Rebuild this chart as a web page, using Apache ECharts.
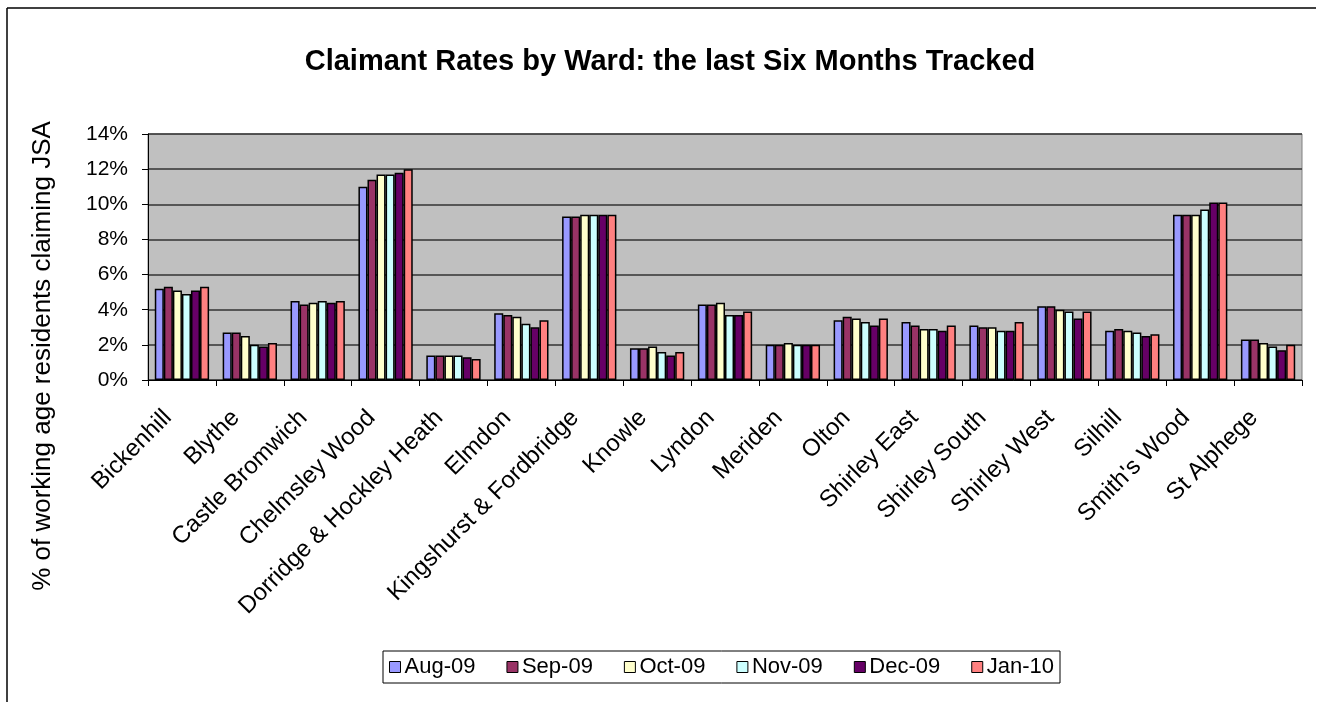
<!DOCTYPE html>
<html>
<head>
<meta charset="utf-8">
<title>Claimant Rates by Ward</title>
<script src="https://cdn.jsdelivr.net/npm/echarts@6/dist/echarts.min.js"></script>
<style>
    html, body { margin: 0; padding: 0; background: #fff; }
    #chart { width: 1320px; height: 702px; }
</style>
</head>
<body>
<div id="chart"></div>
<script>
// wards along the x axis
var wards = ['Bickenhill', 'Blythe', 'Castle Bromwich', 'Chelmsley Wood', 'Dorridge & Hockley Heath',
    'Elmdon', 'Kingshurst & Fordbridge', 'Knowle', 'Lyndon', 'Meriden', 'Olton', 'Shirley East',
    'Shirley South', 'Shirley West', 'Silhill', "Smith's Wood", 'St Alphege'];

// % of working age residents claiming JSA, one array per month
var aug09 = [5.2, 2.7, 4.5, 11.0, 1.4, 3.8, 9.3, 1.8, 4.3, 2.0, 3.4, 3.3, 3.1, 4.2, 2.8, 9.4, 2.3];
var sep09 = [5.3, 2.7, 4.3, 11.4, 1.4, 3.7, 9.3, 1.8, 4.3, 2.0, 3.6, 3.1, 3.0, 4.2, 2.9, 9.4, 2.3];
var oct09 = [5.1, 2.5, 4.4, 11.7, 1.4, 3.6, 9.4, 1.9, 4.4, 2.1, 3.5, 2.9, 3.0, 4.0, 2.8, 9.4, 2.1];
var nov09 = [4.9, 2.0, 4.5, 11.7, 1.4, 3.2, 9.4, 1.6, 3.7, 2.0, 3.3, 2.9, 2.8, 3.9, 2.7, 9.7, 1.9];
var dec09 = [5.1, 1.9, 4.4, 11.8, 1.3, 3.0, 9.4, 1.4, 3.7, 2.0, 3.1, 2.8, 2.8, 3.5, 2.5, 10.1, 1.7];
var jan10 = [5.3, 2.1, 4.5, 12.0, 1.2, 3.4, 9.4, 1.6, 3.9, 2.0, 3.5, 3.1, 3.3, 3.9, 2.6, 10.1, 2.0];

var months = ['Aug-09', 'Sep-09', 'Oct-09', 'Nov-09', 'Dec-09', 'Jan-10'];
var monthData = [aug09, sep09, oct09, nov09, dec09, jan10];
var colors = ['#9999FF', '#993366', '#FFFFCC', '#CCFFFF', '#660066', '#FF8080'];

// y axis ticks
var yMin = 0, yMax = 14, yStep = 2;

var chart = echarts.init(document.getElementById('chart'));
var font = 'Arial, "Liberation Sans", sans-serif';

var series = [];
for (var i = 0; i < months.length; i++) {
    series.push({
        name: months[i],
        type: 'bar',
        data: monthData[i],
        barGap: '0%',
        barCategoryGap: '20%',
        itemStyle: {
            color: colors[i],
            borderColor: '#000',
            borderWidth: 1.5
        }
    });
}

var option = {
    backgroundColor: '#fff',
    animation: false,
    title: {
        text: 'Claimant Rates by Ward: the last Six Months Tracked',
        left: 665,
        top: 42,
        textAlign: 'center',
        textStyle: { fontFamily: font, fontSize: 29, fontWeight: 'bold', color: '#000' }
    },
    legend: {
        data: months,
        bottom: 19,
        left: 383,
        itemWidth: 11,
        itemHeight: 11,
        itemGap: 31,
        padding: [5, 6, 5, 6],
        borderColor: '#000',
        borderWidth: 1,
        borderRadius: 0,
        icon: 'rect',
        itemStyle: { borderColor: '#000', borderWidth: 1 },
        textStyle: { fontFamily: font, fontSize: 22, color: '#000', padding: [0, 0, 0, -1] }
    },
    grid: {
        left: 148,
        right: 18,
        top: 134,
        bottom: 322,
        show: true,
        backgroundColor: '#C0C0C0',
        borderColor: '#808080',
        borderWidth: 1
    },
    xAxis: {
        type: 'category',
        data: wards,
        axisLine: { lineStyle: { color: '#000', width: 1 } },
        axisTick: { show: true, length: 6, lineStyle: { color: '#000' } },
        axisLabel: {
            rotate: 45,
            interval: 0,
            margin: 20,
            padding: [0, 20, 0, 0],
            fontFamily: font,
            fontSize: 24,
            color: '#000'
        }
    },
    yAxis: {
        type: 'value',
        min: yMin,
        max: yMax,
        interval: yStep,
        axisLine: { show: true, lineStyle: { color: '#000' } },
        axisTick: { show: true, length: 6, lineStyle: { color: '#000' } },
        axisLabel: {
            formatter: '{value}%',
            margin: 20,
            fontFamily: font,
            fontSize: 21,
            color: '#000'
        },
        splitLine: { lineStyle: { color: '#333', width: 1.5 } }
    },
    graphic: [
        { type: 'line', shape: { x1: 7, y1: 8, x2: 1316, y2: 8 }, style: { stroke: '#000', lineWidth: 1.5 } },
        { type: 'line', shape: { x1: 7, y1: 8, x2: 7, y2: 702 }, style: { stroke: '#000', lineWidth: 1.5 } },
        {
            // y axis title, centred on the plot + label block like the original
            type: 'text',
            x: 43,
            y: 356,
            rotation: Math.PI / 2,
            style: {
                text: '% of working age residents claiming JSA',
                fontFamily: font,
                fontSize: 26,
                fill: '#000',
                textAlign: 'center',
                textVerticalAlign: 'middle'
            }
        }
    ],
    series: series
};

chart.setOption(option);
</script>
</body>
</html>
